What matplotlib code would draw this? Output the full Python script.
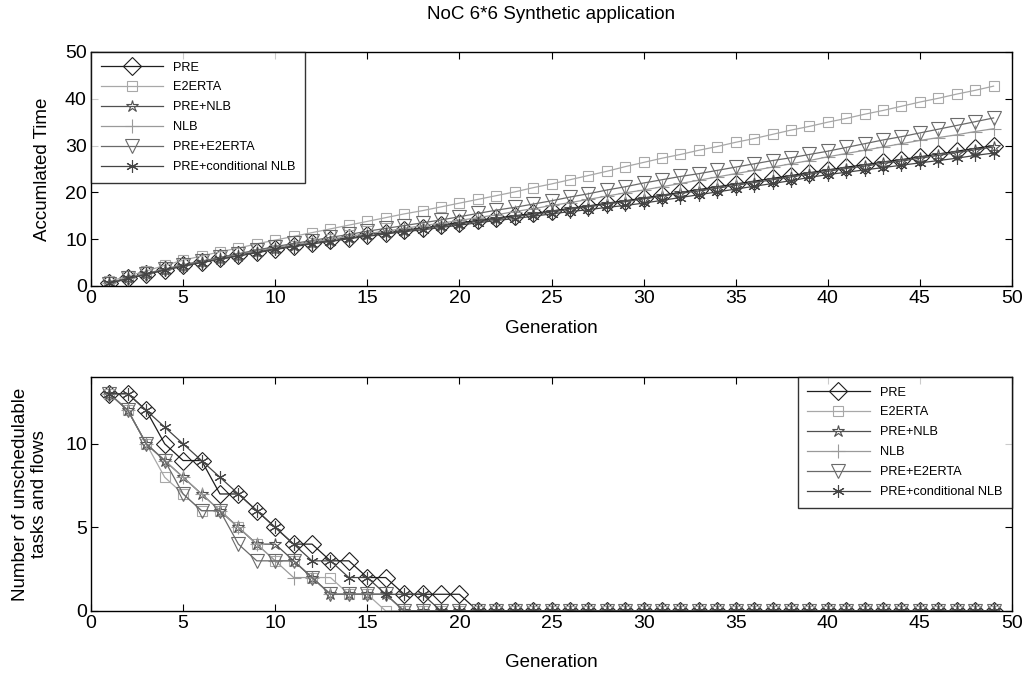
import matplotlib
matplotlib.use("Agg")
import matplotlib.pyplot as plt

plt.rcParams['font.family'] = ['Liberation Sans', 'DejaVu Sans']

generation = list(range(1, 50))
names = ["PRE", "E2ERTA", "PRE+NLB", "NLB", "PRE+E2ERTA", "PRE+conditional NLB"]

# accumulated time per generation (top panel)
time_pre = [0.7, 1.7, 2.6, 3.5, 4.4, 5.2, 5.9, 6.6, 7.3, 8.0, 8.6, 9.2, 9.8, 10.3, 10.9,
            11.4, 11.9, 12.4, 13.0, 13.5, 14.0, 14.5, 15.0, 15.5, 16.0, 16.6, 17.1, 17.7,
            18.2, 18.8, 19.4, 20.0, 20.6, 21.2, 21.8, 22.4, 23.0, 23.6, 24.2, 24.8, 25.4,
            25.9, 26.5, 27.0, 27.6, 28.2, 28.8, 29.4, 30.0]
time_e2erta = [1.0, 2.1, 3.2, 4.4, 5.5, 6.4, 7.3, 8.1, 9.0, 9.8, 10.6, 11.4, 12.2, 13.0, 13.8,
               14.6, 15.4, 16.1, 16.9, 17.7, 18.5, 19.3, 20.1, 21.0, 21.8, 22.7, 23.6, 24.5,
               25.5, 26.4, 27.3, 28.1, 29.0, 29.8, 30.7, 31.5, 32.4, 33.3, 34.1, 35.0, 35.8,
               36.7, 37.5, 38.4, 39.3, 40.1, 41.0, 41.8, 42.7]
time_pre_nlb = [0.6, 1.6, 2.5, 3.4, 4.3, 5.1, 5.8, 6.5, 7.2, 7.9, 8.5, 9.1, 9.7, 10.2, 10.8,
                11.3, 11.8, 12.3, 12.8, 13.3, 13.8, 14.3, 14.8, 15.3, 15.8, 16.4, 16.9, 17.5,
                18.0, 18.6, 19.2, 19.8, 20.3, 20.9, 21.5, 22.1, 22.7, 23.3, 23.9, 24.5, 25.1,
                25.6, 26.2, 26.7, 27.3, 27.9, 28.5, 29.1, 29.7]
time_nlb = [0.6, 1.7, 2.7, 3.6, 4.5, 5.3, 6.0, 6.8, 7.5, 8.2, 8.8, 9.4, 10.0, 10.6, 11.2,
            11.7, 12.3, 12.9, 13.4, 14.0, 14.6, 15.2, 15.9, 16.5, 17.2, 17.8, 18.5, 19.2,
            19.9, 20.5, 21.2, 21.9, 22.6, 23.3, 24.0, 24.7, 25.4, 26.1, 26.8, 27.6, 28.3,
            29.0, 29.7, 30.4, 31.1, 31.7, 32.3, 33.0, 33.6]
time_pre_e2erta = [0.5, 1.6, 2.6, 3.6, 4.5, 5.3, 6.1, 6.9, 7.7, 8.4, 9.1, 9.7, 10.4, 11.0, 11.7,
                   12.3, 12.9, 13.5, 14.1, 14.8, 15.5, 16.2, 16.8, 17.5, 18.2, 19.0, 19.7, 20.5,
                   21.2, 22.0, 22.7, 23.4, 24.0, 24.7, 25.4, 26.1, 26.8, 27.4, 28.1, 28.8, 29.6,
                   30.4, 31.2, 31.9, 32.7, 33.5, 34.3, 35.1, 35.9]
time_pre_cond = [0.6, 1.6, 2.5, 3.4, 4.2, 5.0, 5.7, 6.4, 7.1, 7.8, 8.4, 9.0, 9.5, 10.1, 10.6,
                 11.1, 11.6, 12.0, 12.5, 13.0, 13.5, 14.0, 14.4, 14.9, 15.4, 15.9, 16.3, 16.8,
                 17.2, 17.7, 18.3, 18.9, 19.5, 20.1, 20.7, 21.3, 21.9, 22.5, 23.2, 23.8, 24.3,
                 24.8, 25.3, 25.8, 26.3, 26.8, 27.3, 27.9, 28.4]

# unschedulable tasks and flows per generation (bottom panel)
unsched_pre = [13, 13, 12, 10, 9, 9, 7, 7, 6, 5, 4, 4, 3, 3, 2, 2, 1, 1, 1, 1] + [0] * 29
unsched_e2erta = [13, 12, 10, 8, 7, 6, 6, 5, 4, 3, 3, 2, 2, 1, 1] + [0] * 34
unsched_pre_nlb = [13, 12, 10, 9, 8, 7, 6, 5, 4, 4, 3, 2, 1, 1, 1, 1] + [0] * 33
unsched_nlb = [13, 12, 10, 9, 8, 7, 6, 5, 4, 3, 2, 2, 1, 1, 1, 1] + [0] * 33
unsched_pre_e2erta = [13, 12, 10, 9, 7, 6, 6, 4, 3, 3, 3, 2, 1, 1, 1, 1] + [0] * 33
unsched_pre_cond = [13, 13, 12, 11, 10, 9, 8, 7, 6, 5, 4, 3, 3, 2, 2, 1, 1, 1] + [0] * 31

colors = ["#1e1e1e", "#a8a8a8", "#505050", "#9a9a9a", "#6a6a6a", "#444444"]
markers = ["D", "s", "*", "+", "v", (6, 2, 0)]
msizes = [9, 7, 9, 10, 10, 9]

time_series = [time_pre, time_e2erta, time_pre_nlb, time_nlb, time_pre_e2erta, time_pre_cond]
unsched_series = [unsched_pre, unsched_e2erta, unsched_pre_nlb, unsched_nlb,
                  unsched_pre_e2erta, unsched_pre_cond]

fig = plt.figure(figsize=(10.25, 6.74), dpi=100)
ax1 = fig.add_axes([0.0888, 0.5757, 0.8985, 0.3472])
ax2 = fig.add_axes([0.0888, 0.0935, 0.8985, 0.3472])


def draw(ax, series, xpad):
    for vals, name, c, m, ms in zip(series, names, colors, markers, msizes):
        ax.plot(generation, vals, color=c, marker=m, markersize=ms, markerfacecolor="none",
                markeredgecolor=c, markeredgewidth=0.8, linewidth=0.9, label=name)
    ax.set_xlim(0, 50)
    ax.set_xticks(range(0, 51, 5))
    ax.tick_params(direction="in", top=True, right=True, labelsize=14, length=5, pad=3)
    ax.set_xlabel("Generation", fontsize=13.5, labelpad=xpad)
    for s in ax.spines.values():
        s.set_linewidth(1.0)


def add_legend(ax, loc):
    leg = ax.legend(loc=loc, fontsize=9.2, handlelength=4.9, borderaxespad=0,
                    frameon=True, fancybox=False, edgecolor="black", labelspacing=0.62,
                    borderpad=0.75, handletextpad=0.8)
    leg.get_frame().set_linewidth(1.0)


draw(ax1, time_series, 9)
ax1.set_ylim(0, 50)
ax1.set_yticks(range(0, 51, 10))
ax1.set_ylabel("Accumlated Time", fontsize=13.5, labelpad=10)
ax1.set_title("NoC 6*6 Synthetic application", fontsize=13.5, pad=24)
add_legend(ax1, "upper left")

draw(ax2, unsched_series, 16)
ax2.set_ylim(0, 14)
ax2.set_yticks([0, 5, 10])
ax2.set_ylabel("Number of unschedulable\ntasks and flows", fontsize=13.5, labelpad=12)
add_legend(ax2, "upper right")

fig.savefig("out.png", dpi=100)
